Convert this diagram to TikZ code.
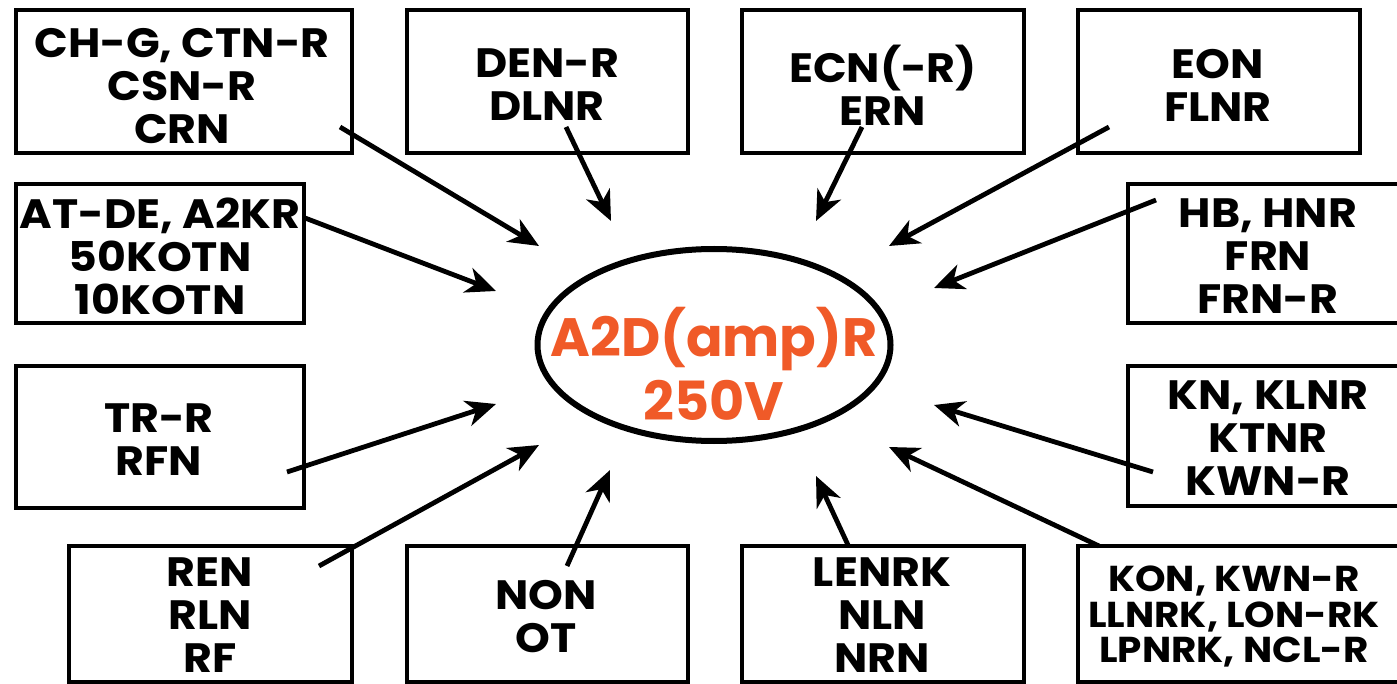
\documentclass[tikz,border=0pt]{standalone}
\usepackage{fontspec}
\setmainfont{Poppins}
\newfontfamily\gfont{Poppins}[FakeStretch=1.08]
\usetikzlibrary{arrows.meta}
\definecolor{orng}{HTML}{F05A28}
\begin{document}
\begin{tikzpicture}[x=1pt,y=-1pt,
  boxtxt/.style={font=\gfont\bfseries\fontsize{41}{43}\selectfont, align=center, inner sep=0pt},
  smalltxt/.style={font=\gfont\bfseries\fontsize{36}{35.5}\selectfont, align=center, inner sep=0pt},
  ctxt/.style={font=\bfseries\fontsize{54}{63}\selectfont, text=orng, inner sep=0pt, anchor=base},
  frame/.style={draw=black, line width=4.5pt},
  arr/.style={line width=4.8pt, -{Stealth[length=30pt,width=26pt,inset=9pt]}}]
\useasboundingbox (0,0) rectangle (1397,684);
% boxes
\draw[frame] (16,10) rectangle (352,153);
\draw[frame] (407,10) rectangle (688,153);
\draw[frame] (742,10) rectangle (1024,153);
\draw[frame] (1078,10) rectangle (1360,153);
\draw[frame] (16,184) rectangle (304,323);
\draw[frame] (1128,184) rectangle (1402,323);
\draw[frame] (16,366) rectangle (304,508);
\draw[frame] (1128,366) rectangle (1402,506);
\draw[frame] (69,546) rectangle (352,682);
\draw[frame] (407,546) rectangle (688,682);
\draw[frame] (742,546) rectangle (1024,682);
\draw[frame] (1078,546) rectangle (1402,682);
% texts
\node[boxtxt] (t1) at (182,86) {CH-G, CTN-R\\CSN-R\\CRN};
\node[boxtxt] (t2) at (547,85) {DEN-R\\DLNR};
\node[boxtxt] (t3) at (883,85) {ECN(-R)\\ERN};
\node[boxtxt] (t4) at (1218,85) {EON\\FLNR};
\node[boxtxt] (t5) at (160,256) {AT-DE, A2KR\\50KOTN\\10KOTN};
\node[boxtxt] (t6) at (1268,256) {HB, HNR\\FRN\\FRN-R};
\node[boxtxt] (t7) at (159,440) {TR-R\\RFN};
\node[boxtxt] (t8) at (1268,438) {KN, KLNR\\KTNR\\KWN-R};
\node[boxtxt] (t9) at (210,615) {REN\\RLN\\RF};
\node[boxtxt] (t10) at (546,617) {NON\\OT};
\node[boxtxt] (t11) at (882,615) {LENRK\\NLN\\NRN};
\node[smalltxt] (t12) at (1234,617) {KON, KWN-R\\LLNRK, LON-RK\\LPNRK, NCL-R};
% ellipse
\draw[line width=6pt] (714,345) ellipse [x radius=176.5, y radius=96];
\node[ctxt] (c1) at (714,356) {A2D(amp)R};
\node[ctxt] (c2) at (714,420) {250V};
% arrow end points
\coordinate (s1) at (340,127); \coordinate (e1) at (539,246);
\coordinate (s2) at (566,127); \coordinate (e2) at (611,221);
\coordinate (s3) at (862,127); \coordinate (e3) at (816,221);
\coordinate (s4) at (1109,127); \coordinate (e4) at (889,246);
\coordinate (s5) at (305,218); \coordinate (e5) at (496,291);
\coordinate (s6) at (1156,200); \coordinate (e6) at (934,288);
\coordinate (s7) at (287,472); \coordinate (e7) at (496,404);
\coordinate (s8) at (1153,472); \coordinate (e8) at (934,405);
\coordinate (s9) at (319,566); \coordinate (e9) at (539,445);
\coordinate (s10) at (567,566); \coordinate (e10) at (610,470);
\coordinate (s11) at (848,545); \coordinate (e11) at (816,476);
\coordinate (s12) at (1099,546); \coordinate (e12) at (889,447);
\foreach \i in {1,...,12} \draw[arr] (s\i) -- (e\i);
\end{tikzpicture}
\end{document}
